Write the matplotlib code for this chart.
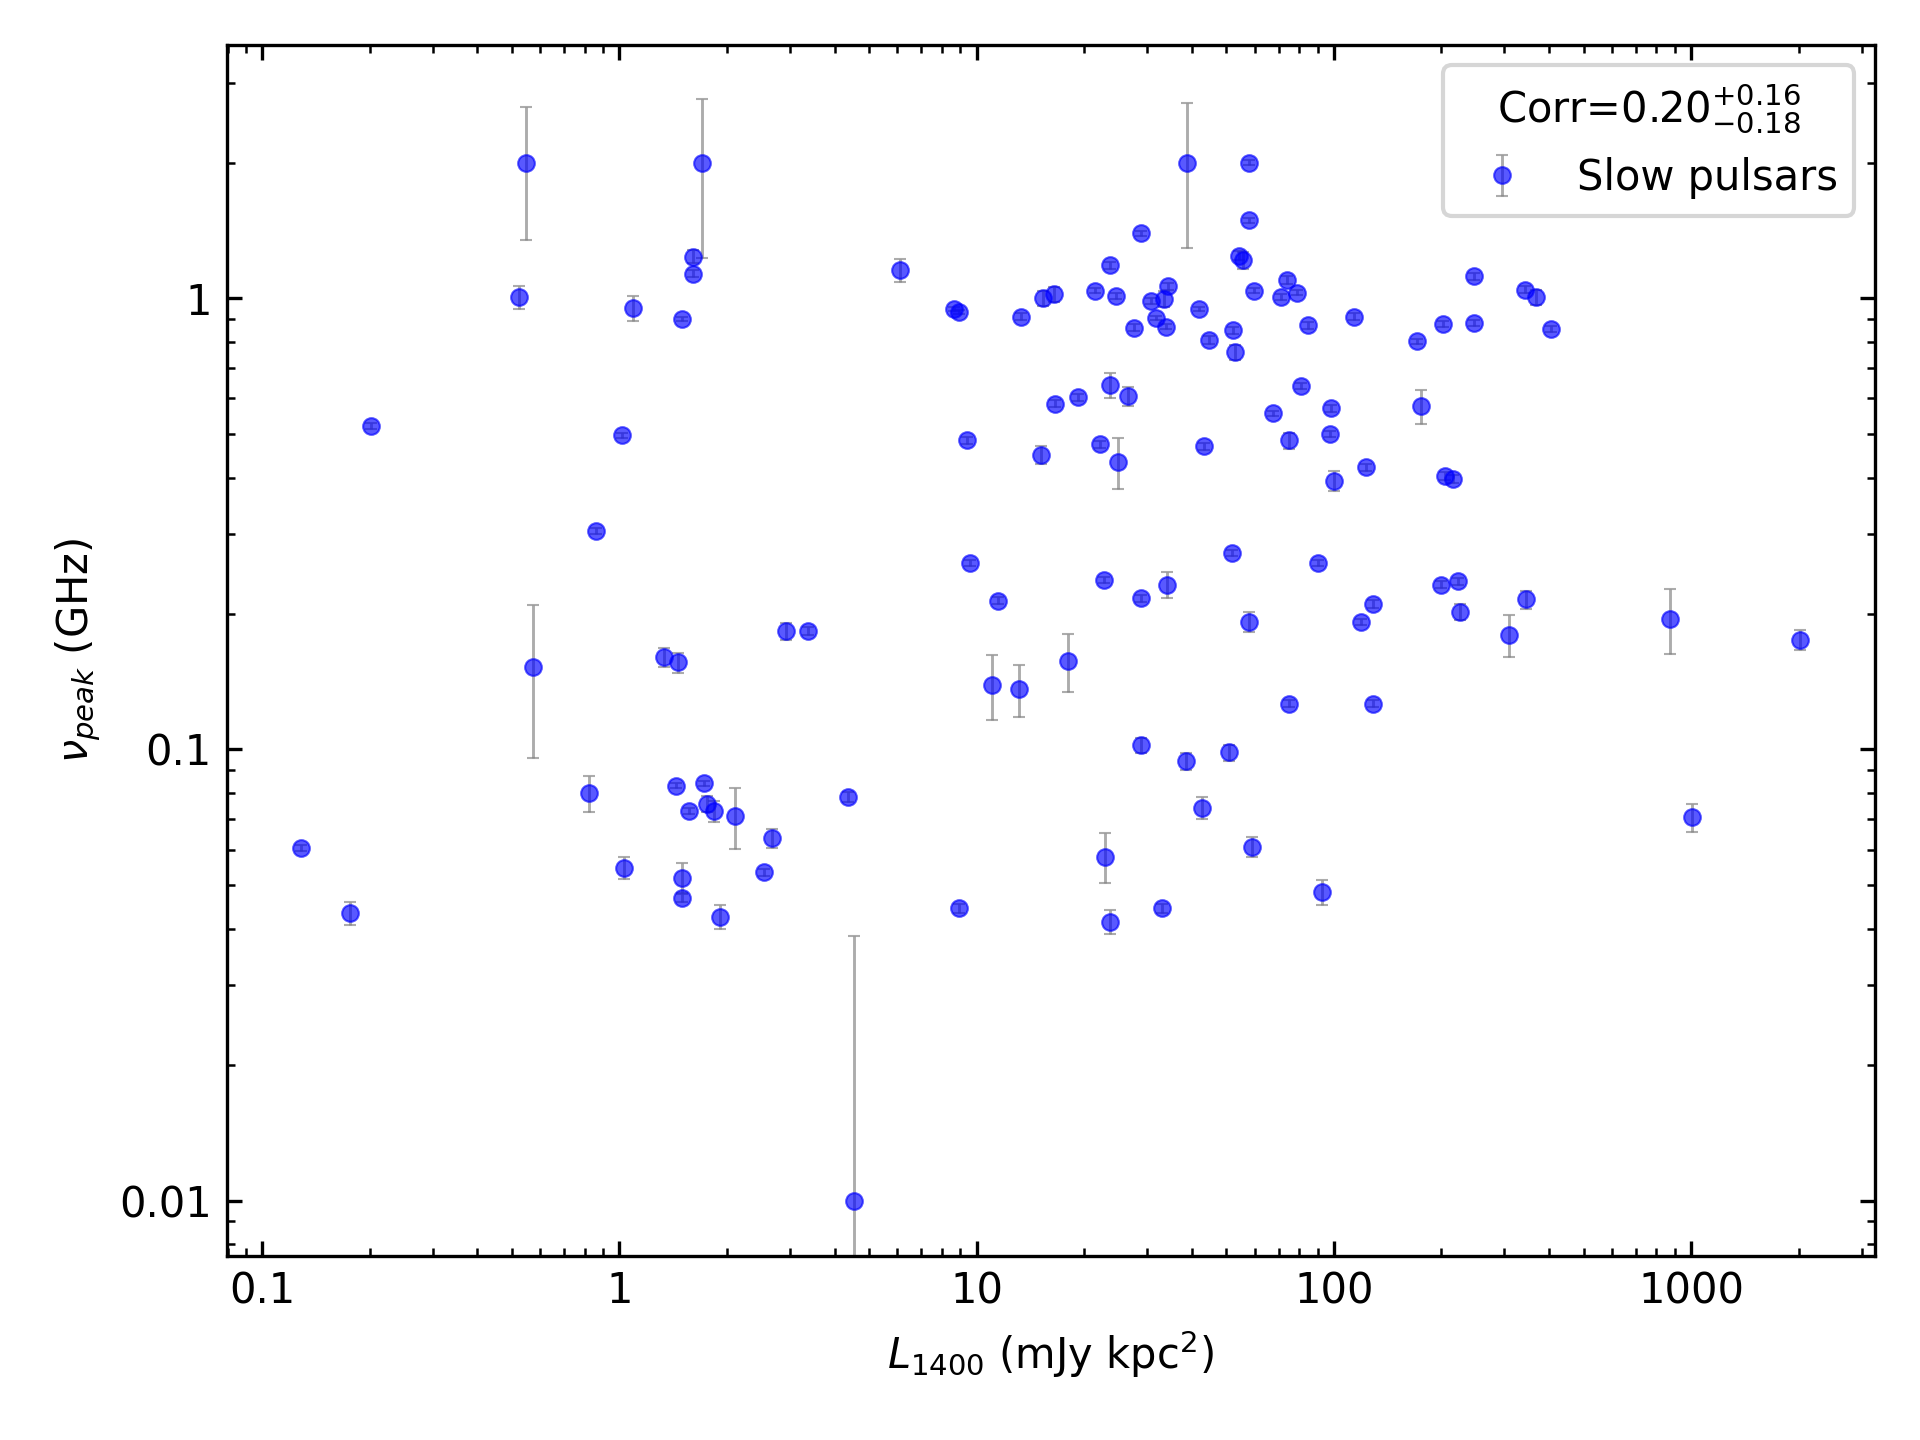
import matplotlib
matplotlib.use('Agg')
import matplotlib.pyplot as plt
from matplotlib.ticker import FuncFormatter

# radio luminosity at 1400 MHz (mJy kpc^2)
L1400 = [0.128, 0.176, 0.201, 0.523, 0.549, 0.571, 0.821, 0.861, 1.016, 1.032,
         1.09, 1.33, 1.44, 1.46, 1.50, 1.50, 1.50, 1.57, 1.61, 1.61,
         1.70, 1.72, 1.76, 1.84, 1.91, 2.10, 2.54, 2.68, 2.93, 3.38,
         4.35, 4.52, 6.10, 8.64, 8.92, 8.92, 9.42, 9.58, 11.04, 11.5,
         13.1, 13.3, 15.1, 15.3, 16.5, 16.6, 18.0, 19.2, 21.4, 22.1,
         22.7, 22.8, 23.6, 23.6, 23.6, 24.5, 24.9, 26.5, 27.6, 28.9,
         28.9, 28.9, 30.8, 31.8, 33.4, 33.1, 33.9, 34.2, 34.4, 38.5,
         38.7, 41.9, 42.6, 43.3, 44.7, 50.7, 51.9, 52.3, 52.7, 54.4,
         55.7, 58.0, 58.0, 58.0, 58.9, 59.8, 67.4, 71.2, 74.1, 74.7,
         74.7, 78.9, 80.8, 84.7, 90.2, 92.4, 97.7, 98.4, 100, 114,
         119, 123, 129, 129, 171, 175, 200, 202, 204, 215,
         222, 226, 246, 246, 309, 343, 346, 368, 405, 871,
         1004, 2012]

# peak frequency (GHz)
nu_peak = [0.0605, 0.0434, 0.522, 1.006, 2.0, 0.1525, 0.080, 0.305, 0.497, 0.0547,
           0.951, 0.160, 0.0832, 0.156, 0.899, 0.052, 0.0468, 0.073, 1.237, 1.133,
           2.0, 0.0842, 0.0757, 0.073, 0.0426, 0.0711, 0.0534, 0.0636, 0.183, 0.183,
           0.0786, 0.010, 1.155, 0.945, 0.934, 0.0445, 0.484, 0.259, 0.139, 0.2137,
           0.136, 0.911, 0.45, 1.0, 1.02, 0.584, 0.157, 0.603, 1.04, 0.475,
           0.2376, 0.0579, 0.642, 1.184, 0.0415, 1.012, 0.433, 0.607, 0.861, 1.393,
           0.2164, 0.1022, 0.988, 0.905, 0.997, 0.0445, 0.866, 0.232, 1.064, 0.0942,
           2.0, 0.945, 0.0743, 0.47, 0.809, 0.0985, 0.273, 0.85, 0.76, 1.244,
           1.214, 2.0, 1.49, 0.192, 0.0609, 1.04, 0.556, 1.006, 1.098, 0.1264,
           0.484, 1.03, 0.638, 0.872, 0.259, 0.0483, 0.50, 0.57, 0.394, 0.911,
           0.192, 0.422, 0.210, 0.1264, 0.804, 0.577, 0.232, 0.877, 0.404, 0.397,
           0.236, 0.202, 1.119, 0.882, 0.1794, 1.045, 0.215, 1.006, 0.855, 0.1945,
           0.0707, 0.175]

nu_err = [0.001, 0.0025, 0.008, 0.06, 0.65, 0.057, 0.0075, 0.004, 0.006, 0.003,
          0.06, 0.008, 0.001, 0.008, 0.01, 0.004, 0.001, 0.001, 0.04, 0.02,
          0.77, 0.001, 0.003, 0.004, 0.0025, 0.011, 0.001, 0.003, 0.008, 0.004,
          0.002, 0.0286, 0.07, 0.01, 0.01, 0.001, 0.008, 0.004, 0.023, 0.004,
          0.018, 0.015, 0.02, 0.04, 0.04, 0.01, 0.023, 0.01, 0.015, 0.008,
          0.004, 0.0073, 0.04, 0.02, 0.0025, 0.015, 0.056, 0.03, 0.015, 0.02,
          0.004, 0.004, 0.015, 0.01, 0.04, 0.001, 0.01, 0.015, 0.02, 0.004,
          0.71, 0.01, 0.004, 0.008, 0.015, 0.004, 0.004, 0.015, 0.03, 0.03,
          0.05, 0.03, 0.02, 0.01, 0.003, 0.015, 0.008, 0.015, 0.02, 0.002,
          0.02, 0.015, 0.01, 0.015, 0.004, 0.003, 0.008, 0.01, 0.02, 0.015,
          0.003, 0.008, 0.004, 0.002, 0.01, 0.05, 0.004, 0.015, 0.008, 0.008,
          0.004, 0.008, 0.02, 0.015, 0.019, 0.02, 0.01, 0.04, 0.015, 0.032,
          0.005, 0.009]

corr_label = r'Corr=$0.20^{+0.16}_{-0.18}$'

fig, ax = plt.subplots(figsize=(6.4, 4.8), dpi=300)
ax.errorbar(L1400, nu_peak, yerr=nu_err, fmt='o', color='blue', alpha=0.65,
            markersize=4, markeredgewidth=0.5, ecolor='grey', elinewidth=0.7,
            capsize=1.5, capthick=0.7, label='Slow pulsars')
ax.set_xscale('log')
ax.set_yscale('log')
ax.set_xlim(10**-1.1, 10**3.515)
ax.set_ylim(0.00755, 3.65)
fmt = FuncFormatter(lambda v, _: f'{v:g}')
ax.xaxis.set_major_formatter(fmt)
ax.yaxis.set_major_formatter(fmt)
ax.tick_params(which='both', direction='in', top=True, right=True)
ax.set_xlabel(r'$L_{1400}$ (mJy kpc$^2$)')
ax.set_ylabel(r'$\nu_{peak}$ (GHz)')
ax.legend(loc='upper right', title=corr_label)
fig.subplots_adjust(left=0.118, right=0.9766, top=0.969, bottom=0.128)
fig.savefig('out.png')
